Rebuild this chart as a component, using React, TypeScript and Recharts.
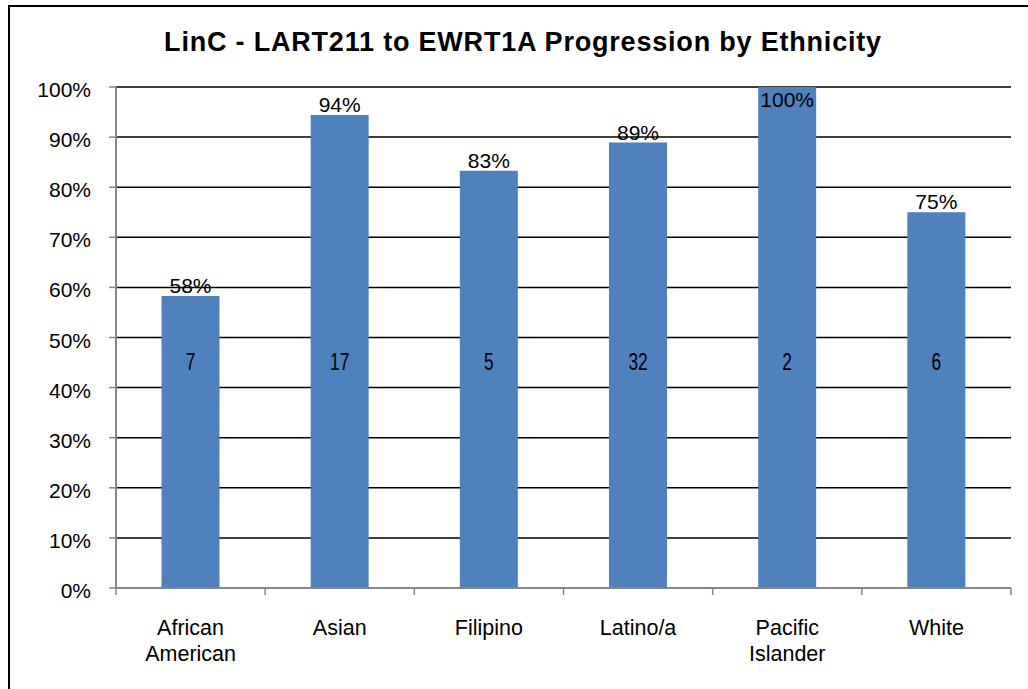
import React from 'react';
import { BarChart, Bar, XAxis, YAxis, CartesianGrid, LabelList } from 'recharts';

const categories = ['African American', 'Asian', 'Filipino', 'Latino/a', 'Pacific Islander', 'White'];
const progressionRate = [0.583, 0.944, 0.833, 0.889, 1.0, 0.75];
const studentCounts = [7, 17, 5, 32, 2, 6];
const yTicks = [0, 0.1, 0.2, 0.3, 0.4, 0.5, 0.6, 0.7, 0.8, 0.9, 1.0];
const title = 'LinC - LART211 to EWRT1A Progression by Ethnicity';

const data = categories.map((name, i) => ({
  name,
  rate: progressionRate[i],
  n: studentCounts[i],
}));

const FONT = '"Liberation Sans", Arial, sans-serif';
const BAR = '#4F81BD';
const AXIS_GRAY = '#868686';
const COUNT_RISE = 227;

const CHART_W = 1028;
const CHART_H = 689;
const MARGIN = { top: 87, right: 17, bottom: 0, left: 56 };
const Y_AXIS_W = 60;
const PLOT_W = CHART_W - MARGIN.right - MARGIN.left - Y_AXIS_W;
const BAND = PLOT_W / categories.length;

const pct = (v: number) => `${Math.round(v * 100)}%`;

const YTick = (props: any) => {
  const { x, y, payload } = props;
  return (
    <text x={x} y={y} dy={10} textAnchor="end" fontSize={21} fontFamily={FONT} fill="#000">
      {pct(payload.value)}
    </text>
  );
};

const CatTick = (props: any) => {
  const { x, y, payload, index } = props;
  const lines = String(payload.value).split(' ');
  const isLast = index === categories.length - 1;
  return (
    <g>
      <line x1={x - BAND / 2} x2={x - BAND / 2} y1={y} y2={y + 7} stroke={AXIS_GRAY} strokeWidth={1.5} />
      {isLast && (
        <line x1={x + BAND / 2} x2={x + BAND / 2} y1={y} y2={y + 7} stroke={AXIS_GRAY} strokeWidth={1.5} />
      )}
      <text x={x} y={y} textAnchor="middle" fontSize={21.5} fontFamily={FONT} fill="#000">
        {lines.map((l: string, i: number) => (
          <tspan key={i} x={x} y={y + 47 + i * 26}>
            {l}
          </tspan>
        ))}
      </text>
    </g>
  );
};

const PctLabel = (props: any) => {
  const { x, y, width, value } = props;
  const cx = x + width / 2;
  const inside = value >= 1;
  return (
    <text x={cx} y={inside ? y + 20 : y - 3} textAnchor="middle" fontSize={21} fontFamily={FONT} fill="#000">
      {pct(value)}
    </text>
  );
};

const CountLabel = (props: any) => {
  const { x, y, width, height, value } = props;
  const cx = x + width / 2;
  const cy = y + height - COUNT_RISE;
  return (
    <text
      transform={`translate(${cx}, ${cy}) scale(0.72, 1)`}
      x={0}
      y={0}
      dy={8.5}
      textAnchor="middle"
      fontSize={24}
      fontFamily={FONT}
      fill="#000"
    >
      {value}
    </text>
  );
};

export default function App() {
  return (
    <div
      style={{
        position: 'absolute',
        left: 0,
        top: 0,
        width: CHART_W,
        height: CHART_H,
        overflow: 'hidden',
        background: '#fff',
      }}
    >
      <div
        style={{
          position: 'absolute',
          left: 8,
          top: 5,
          width: 1100,
          height: 800,
          border: '2px solid #000',
          boxSizing: 'border-box',
        }}
      />
      <div style={{ position: 'absolute', left: 0, top: 0 }}>
        <BarChart
          width={CHART_W}
          height={CHART_H}
          data={data}
          margin={MARGIN}
          barCategoryGap="30.5%"
        >
          <CartesianGrid vertical={false} stroke="#000" strokeWidth={1.5} yAxisId="left" xAxisId="cat" />
          <XAxis
            xAxisId="cat"
            dataKey="name"
            axisLine={{ stroke: AXIS_GRAY, strokeWidth: 2 }}
            tickLine={false}
            tickSize={0}
            tickMargin={0}
            height={101}
            interval={0}
            tick={<CatTick />}
          />
          <YAxis
            yAxisId="left"
            domain={[0, 1]}
            ticks={yTicks}
            width={Y_AXIS_W}
            tickSize={7}
            tickMargin={18}
            interval={0}
            axisLine={{ stroke: AXIS_GRAY, strokeWidth: 2 }}
            tickLine={{ stroke: AXIS_GRAY, strokeWidth: 1.5 }}
            tick={<YTick />}
          />
          <YAxis
            yAxisId="right"
            orientation="right"
            domain={[0, 1]}
            width={0}
            tick={false}
            tickLine={false}
            axisLine={{ stroke: '#000', strokeWidth: 2 }}
          />
          <Bar dataKey="rate" xAxisId="cat" yAxisId="left" fill={BAR} isAnimationActive={false}>
            <LabelList dataKey="rate" content={<PctLabel />} />
            <LabelList dataKey="n" content={<CountLabel />} />
          </Bar>
        </BarChart>
      </div>
      <svg
        width={CHART_W}
        height={CHART_H}
        style={{ position: 'absolute', left: 0, top: 0, pointerEvents: 'none' }}
      >
        <text
          x={523}
          y={51}
          textAnchor="middle"
          fontSize={27}
          fontWeight="bold"
          letterSpacing={0.8}
          fontFamily={FONT}
          fill="#000"
        >
          {title}
        </text>
      </svg>
    </div>
  );
}
